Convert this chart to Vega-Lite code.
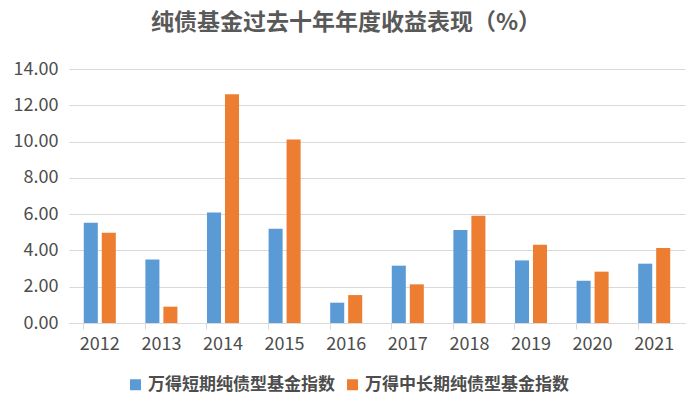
{
  "$schema": "https://vega.github.io/schema/vega-lite/v6.json",
  "width": 616,
  "height": 254,
  "autosize": "none",
  "padding": {"left": 69, "top": 69, "right": 15, "bottom": 88},
  "background": "white",
  "title": {
    "text": "纯债基金过去十年年度收益表现（%）",
    "font": "Noto Sans CJK SC",
    "fontSize": 23,
    "fontWeight": "bold",
    "color": "#595959",
    "anchor": "middle",
    "dx": -31,
    "offset": 25
  },
  "data": {
    "values": [
      {"year": "2012", "series": "万得短期纯债型基金指数", "value": 5.52},
      {"year": "2012", "series": "万得中长期纯债型基金指数", "value": 4.97},
      {"year": "2013", "series": "万得短期纯债型基金指数", "value": 3.50},
      {"year": "2013", "series": "万得中长期纯债型基金指数", "value": 0.90},
      {"year": "2014", "series": "万得短期纯债型基金指数", "value": 6.09},
      {"year": "2014", "series": "万得中长期纯债型基金指数", "value": 12.61},
      {"year": "2015", "series": "万得短期纯债型基金指数", "value": 5.19},
      {"year": "2015", "series": "万得中长期纯债型基金指数", "value": 10.11},
      {"year": "2016", "series": "万得短期纯债型基金指数", "value": 1.12},
      {"year": "2016", "series": "万得中长期纯债型基金指数", "value": 1.54},
      {"year": "2017", "series": "万得短期纯债型基金指数", "value": 3.16},
      {"year": "2017", "series": "万得中长期纯债型基金指数", "value": 2.13},
      {"year": "2018", "series": "万得短期纯债型基金指数", "value": 5.12},
      {"year": "2018", "series": "万得中长期纯债型基金指数", "value": 5.91},
      {"year": "2019", "series": "万得短期纯债型基金指数", "value": 3.45},
      {"year": "2019", "series": "万得中长期纯债型基金指数", "value": 4.31},
      {"year": "2020", "series": "万得短期纯债型基金指数", "value": 2.33},
      {"year": "2020", "series": "万得中长期纯债型基金指数", "value": 2.83},
      {"year": "2021", "series": "万得短期纯债型基金指数", "value": 3.27},
      {"year": "2021", "series": "万得中长期纯债型基金指数", "value": 4.13}
    ]
  },
  "mark": {"type": "bar"},
  "encoding": {
    "x": {
      "field": "year",
      "type": "nominal",
      "scale": {"paddingInner": 0.48, "paddingOuter": 0.24},
      "axis": {
        "title": null,
        "labelAngle": 0,
        "labelFont": "Noto Sans CJK SC",
        "labelFontSize": 18,
        "labelColor": "#4d4d4d",
        "labelPadding": 6,
        "domainColor": "#d9d9d9",
        "tickColor": "#d9d9d9",
        "tickSize": 6,
        "bandPosition": 0,
        "grid": false
      }
    },
    "xOffset": {
      "field": "series",
      "type": "nominal",
      "sort": ["万得短期纯债型基金指数", "万得中长期纯债型基金指数"],
      "scale": {"paddingInner": 0.22, "paddingOuter": 0}
    },
    "y": {
      "field": "value",
      "type": "quantitative",
      "scale": {"domain": [0, 14], "nice": false},
      "axis": {
        "title": null,
        "values": [0, 2, 4, 6, 8, 10, 12, 14],
        "format": ".2f",
        "labelFont": "Noto Sans CJK SC",
        "labelFontSize": 18,
        "labelColor": "#4d4d4d",
        "labelPadding": 11,
        "domain": false,
        "ticks": false,
        "gridColor": "#d9d9d9",
        "gridWidth": 1
      }
    },
    "color": {
      "field": "series",
      "type": "nominal",
      "scale": {
        "domain": ["万得短期纯债型基金指数", "万得中长期纯债型基金指数"],
        "range": ["#5B9BD5", "#ED7D31"]
      },
      "legend": {
        "title": null,
        "orient": "none",
        "legendX": 58,
        "legendY": 307,
        "direction": "horizontal",
        "symbolType": "square",
        "symbolSize": 121,
        "symbolStrokeWidth": 0,
        "labelFont": "Noto Sans CJK SC",
        "labelFontSize": 17,
        "labelFontWeight": "bold",
        "labelColor": "#4d4d4d",
        "labelLimit": 300,
        "columnPadding": 9
      }
    }
  },
  "config": {"view": {"stroke": null}}
}
